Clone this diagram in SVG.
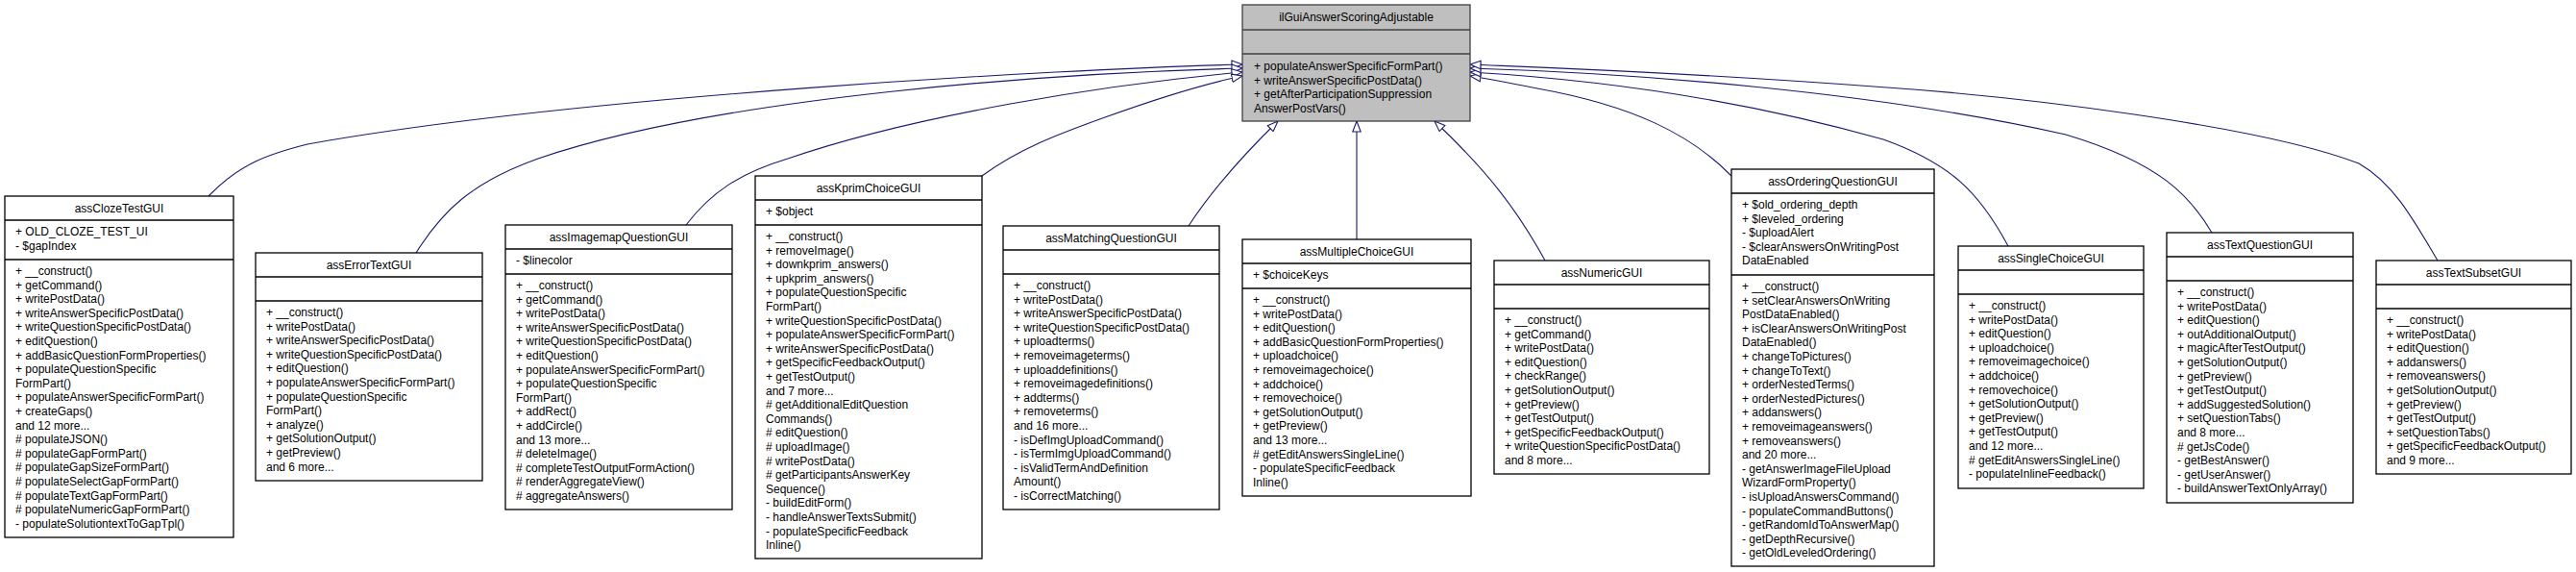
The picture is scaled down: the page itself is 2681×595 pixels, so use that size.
<svg xmlns="http://www.w3.org/2000/svg" width="2681" height="595" viewBox="0 0 2681 595">
<style>
.b{fill:#fff;stroke:#000;stroke-width:1.3}
.r{fill:#bfbfbf;stroke:#404040;stroke-width:1.3}
.s{stroke:#000;stroke-width:1.3}
.rs{stroke:#404040;stroke-width:1.3}
text{font-family:"Liberation Sans",Arial,sans-serif;font-size:12px;fill:#000}
.c{text-anchor:middle}
.e{fill:none;stroke:#191970;stroke-width:1.1}
</style>
<defs>
<marker id="tri" viewBox="0 0 12 10" refX="11.5" refY="5" markerWidth="12" markerHeight="10" markerUnits="userSpaceOnUse" orient="auto">
<path d="M0.5,0.8 L11.5,5 L0.5,9.2 Z" fill="#fff" stroke="#191970" stroke-width="1.1"/>
</marker>
</defs>
<g id="edges">
<path class="e" marker-end="url(#tri)" d="M217,204 C250,170 280,160 320,150 C600,100 1100,72 1293,67"/>
<path class="e" marker-end="url(#tri)" d="M433,263 C460,220 490,190 560,165 C750,100 1100,76 1293,71"/>
<path class="e" marker-end="url(#tri)" d="M714,234 C740,200 770,180 820,165 C950,120 1150,88 1293,75"/>
<path class="e" marker-end="url(#tri)" d="M1022,183 C1060,155 1100,140 1150,122 C1200,104 1250,88 1293,79"/>
<path class="e" marker-end="url(#tri)" d="M1237,235 C1260,200 1290,165 1330,126"/>
<path class="e" marker-end="url(#tri)" d="M1412,249 L1412,126"/>
<path class="e" marker-end="url(#tri)" d="M1608,271 C1580,220 1550,180 1493,126"/>
<path class="e" marker-end="url(#tri)" d="M1802,183 C1760,140 1700,110 1600,92 C1570,86 1550,82 1530,79"/>
<path class="e" marker-end="url(#tri)" d="M2090,256 C2060,200 2030,170 1960,145 C1800,100 1650,82 1530,75"/>
<path class="e" marker-end="url(#tri)" d="M2302,242 C2280,205 2250,170 2150,140 C1950,95 1700,76 1530,71"/>
<path class="e" marker-end="url(#tri)" d="M2537,271 C2510,225 2490,190 2455,170 C2350,130 2100,100 1950,90 C1750,75 1600,70 1530,67"/>
</g>
<g id="ilGuiAnswerScoringAdjustable">
<rect class="r" x="1293" y="5" width="237" height="121"/>
<line class="rs" x1="1293" y1="31" x2="1530" y2="31"/><line class="rs" x1="1293" y1="56" x2="1530" y2="56"/>
<text class="c" x="1411.5" y="22">ilGuiAnswerScoringAdjustable</text>
<text><tspan x="1305" y="73">+ populateAnswerSpecificFormPart()</tspan><tspan x="1305" y="87.6">+ writeAnswerSpecificPostData()</tspan><tspan x="1305" y="102.2">+ getAfterParticipationSuppression</tspan><tspan x="1305" y="116.8">AnswerPostVars()</tspan></text>
</g>
<g id="assClozeTestGUI">
<rect class="b" x="5" y="204" width="238" height="355"/>
<line class="s" x1="5" y1="229" x2="243" y2="229"/><line class="s" x1="5" y1="270" x2="243" y2="270"/>
<text class="c" x="124" y="221">assClozeTestGUI</text>
<text><tspan x="16" y="245">+ OLD_CLOZE_TEST_UI</tspan><tspan x="16" y="260">- $gapIndex</tspan></text>
<text><tspan x="16" y="286">+ __construct()</tspan><tspan x="16" y="300.6">+ getCommand()</tspan><tspan x="16" y="315.2">+ writePostData()</tspan><tspan x="16" y="329.8">+ writeAnswerSpecificPostData()</tspan><tspan x="16" y="344.4">+ writeQuestionSpecificPostData()</tspan><tspan x="16" y="359">+ editQuestion()</tspan><tspan x="16" y="373.6">+ addBasicQuestionFormProperties()</tspan><tspan x="16" y="388.2">+ populateQuestionSpecific</tspan><tspan x="16" y="402.8">FormPart()</tspan><tspan x="16" y="417.4">+ populateAnswerSpecificFormPart()</tspan><tspan x="16" y="432">+ createGaps()</tspan><tspan x="16" y="446.6">and 12 more...</tspan><tspan x="16" y="461.2"># populateJSON()</tspan><tspan x="16" y="475.8"># populateGapFormPart()</tspan><tspan x="16" y="490.4"># populateGapSizeFormPart()</tspan><tspan x="16" y="505"># populateSelectGapFormPart()</tspan><tspan x="16" y="519.6"># populateTextGapFormPart()</tspan><tspan x="16" y="534.2"># populateNumericGapFormPart()</tspan><tspan x="16" y="548.8">- populateSolutiontextToGapTpl()</tspan></text>
</g>
<g id="assErrorTextGUI">
<rect class="b" x="266" y="263" width="236" height="237"/>
<line class="s" x1="266" y1="288" x2="502" y2="288"/><line class="s" x1="266" y1="313" x2="502" y2="313"/>
<text class="c" x="384" y="280">assErrorTextGUI</text>
<text><tspan x="277" y="329">+ __construct()</tspan><tspan x="277" y="343.6">+ writePostData()</tspan><tspan x="277" y="358.2">+ writeAnswerSpecificPostData()</tspan><tspan x="277" y="372.8">+ writeQuestionSpecificPostData()</tspan><tspan x="277" y="387.4">+ editQuestion()</tspan><tspan x="277" y="402">+ populateAnswerSpecificFormPart()</tspan><tspan x="277" y="416.6">+ populateQuestionSpecific</tspan><tspan x="277" y="431.2">FormPart()</tspan><tspan x="277" y="445.8">+ analyze()</tspan><tspan x="277" y="460.4">+ getSolutionOutput()</tspan><tspan x="277" y="475">+ getPreview()</tspan><tspan x="277" y="489.6">and 6 more...</tspan></text>
</g>
<g id="assImagemapQuestionGUI">
<rect class="b" x="526" y="234" width="236" height="296"/>
<line class="s" x1="526" y1="259" x2="762" y2="259"/><line class="s" x1="526" y1="285" x2="762" y2="285"/>
<text class="c" x="644" y="251">assImagemapQuestionGUI</text>
<text x="537" y="275">- $linecolor</text>
<text><tspan x="537" y="301">+ __construct()</tspan><tspan x="537" y="315.6">+ getCommand()</tspan><tspan x="537" y="330.2">+ writePostData()</tspan><tspan x="537" y="344.8">+ writeAnswerSpecificPostData()</tspan><tspan x="537" y="359.4">+ writeQuestionSpecificPostData()</tspan><tspan x="537" y="374">+ editQuestion()</tspan><tspan x="537" y="388.6">+ populateAnswerSpecificFormPart()</tspan><tspan x="537" y="403.2">+ populateQuestionSpecific</tspan><tspan x="537" y="417.8">FormPart()</tspan><tspan x="537" y="432.4">+ addRect()</tspan><tspan x="537" y="447">+ addCircle()</tspan><tspan x="537" y="461.6">and 13 more...</tspan><tspan x="537" y="476.2"># deleteImage()</tspan><tspan x="537" y="490.8"># completeTestOutputFormAction()</tspan><tspan x="537" y="505.4"># renderAggregateView()</tspan><tspan x="537" y="520"># aggregateAnswers()</tspan></text>
</g>
<g id="assKprimChoiceGUI">
<rect class="b" x="786" y="183" width="236" height="398"/>
<line class="s" x1="786" y1="208" x2="1022" y2="208"/><line class="s" x1="786" y1="234" x2="1022" y2="234"/>
<text class="c" x="904" y="200">assKprimChoiceGUI</text>
<text x="797" y="224">+ $object</text>
<text><tspan x="797" y="250">+ __construct()</tspan><tspan x="797" y="264.6">+ removeImage()</tspan><tspan x="797" y="279.2">+ downkprim_answers()</tspan><tspan x="797" y="293.8">+ upkprim_answers()</tspan><tspan x="797" y="308.4">+ populateQuestionSpecific</tspan><tspan x="797" y="323">FormPart()</tspan><tspan x="797" y="337.6">+ writeQuestionSpecificPostData()</tspan><tspan x="797" y="352.2">+ populateAnswerSpecificFormPart()</tspan><tspan x="797" y="366.8">+ writeAnswerSpecificPostData()</tspan><tspan x="797" y="381.4">+ getSpecificFeedbackOutput()</tspan><tspan x="797" y="396">+ getTestOutput()</tspan><tspan x="797" y="410.6">and 7 more...</tspan><tspan x="797" y="425.2"># getAdditionalEditQuestion</tspan><tspan x="797" y="439.8">Commands()</tspan><tspan x="797" y="454.4"># editQuestion()</tspan><tspan x="797" y="469"># uploadImage()</tspan><tspan x="797" y="483.6"># writePostData()</tspan><tspan x="797" y="498.2"># getParticipantsAnswerKey</tspan><tspan x="797" y="512.8">Sequence()</tspan><tspan x="797" y="527.4">- buildEditForm()</tspan><tspan x="797" y="542">- handleAnswerTextsSubmit()</tspan><tspan x="797" y="556.6">- populateSpecificFeedback</tspan><tspan x="797" y="571.2">Inline()</tspan></text>
</g>
<g id="assMatchingQuestionGUI">
<rect class="b" x="1044" y="235" width="225" height="295"/>
<line class="s" x1="1044" y1="260" x2="1269" y2="260"/><line class="s" x1="1044" y1="285" x2="1269" y2="285"/>
<text class="c" x="1156.5" y="252">assMatchingQuestionGUI</text>
<text><tspan x="1055" y="301">+ __construct()</tspan><tspan x="1055" y="315.6">+ writePostData()</tspan><tspan x="1055" y="330.2">+ writeAnswerSpecificPostData()</tspan><tspan x="1055" y="344.8">+ writeQuestionSpecificPostData()</tspan><tspan x="1055" y="359.4">+ uploadterms()</tspan><tspan x="1055" y="374">+ removeimageterms()</tspan><tspan x="1055" y="388.6">+ uploaddefinitions()</tspan><tspan x="1055" y="403.2">+ removeimagedefinitions()</tspan><tspan x="1055" y="417.8">+ addterms()</tspan><tspan x="1055" y="432.4">+ removeterms()</tspan><tspan x="1055" y="447">and 16 more...</tspan><tspan x="1055" y="461.6">- isDefImgUploadCommand()</tspan><tspan x="1055" y="476.2">- isTermImgUploadCommand()</tspan><tspan x="1055" y="490.8">- isValidTermAndDefinition</tspan><tspan x="1055" y="505.4">Amount()</tspan><tspan x="1055" y="520">- isCorrectMatching()</tspan></text>
</g>
<g id="assMultipleChoiceGUI">
<rect class="b" x="1293" y="249" width="238" height="267"/>
<line class="s" x1="1293" y1="274" x2="1531" y2="274"/><line class="s" x1="1293" y1="300" x2="1531" y2="300"/>
<text class="c" x="1412" y="266">assMultipleChoiceGUI</text>
<text x="1304" y="290">+ $choiceKeys</text>
<text><tspan x="1304" y="316">+ __construct()</tspan><tspan x="1304" y="330.6">+ writePostData()</tspan><tspan x="1304" y="345.2">+ editQuestion()</tspan><tspan x="1304" y="359.8">+ addBasicQuestionFormProperties()</tspan><tspan x="1304" y="374.4">+ uploadchoice()</tspan><tspan x="1304" y="389">+ removeimagechoice()</tspan><tspan x="1304" y="403.6">+ addchoice()</tspan><tspan x="1304" y="418.2">+ removechoice()</tspan><tspan x="1304" y="432.8">+ getSolutionOutput()</tspan><tspan x="1304" y="447.4">+ getPreview()</tspan><tspan x="1304" y="462">and 13 more...</tspan><tspan x="1304" y="476.6"># getEditAnswersSingleLine()</tspan><tspan x="1304" y="491.2">- populateSpecificFeedback</tspan><tspan x="1304" y="505.8">Inline()</tspan></text>
</g>
<g id="assNumericGUI">
<rect class="b" x="1555" y="271" width="224" height="222"/>
<line class="s" x1="1555" y1="296" x2="1779" y2="296"/><line class="s" x1="1555" y1="321" x2="1779" y2="321"/>
<text class="c" x="1667" y="288">assNumericGUI</text>
<text><tspan x="1566" y="337">+ __construct()</tspan><tspan x="1566" y="351.6">+ getCommand()</tspan><tspan x="1566" y="366.2">+ writePostData()</tspan><tspan x="1566" y="380.8">+ editQuestion()</tspan><tspan x="1566" y="395.4">+ checkRange()</tspan><tspan x="1566" y="410">+ getSolutionOutput()</tspan><tspan x="1566" y="424.6">+ getPreview()</tspan><tspan x="1566" y="439.2">+ getTestOutput()</tspan><tspan x="1566" y="453.8">+ getSpecificFeedbackOutput()</tspan><tspan x="1566" y="468.4">+ writeQuestionSpecificPostData()</tspan><tspan x="1566" y="483">and 8 more...</tspan></text>
</g>
<g id="assOrderingQuestionGUI">
<rect class="b" x="1802" y="176" width="211" height="413"/>
<line class="s" x1="1802" y1="201" x2="2013" y2="201"/><line class="s" x1="1802" y1="286" x2="2013" y2="286"/>
<text class="c" x="1907.5" y="193">assOrderingQuestionGUI</text>
<text><tspan x="1813" y="217">+ $old_ordering_depth</tspan><tspan x="1813" y="231.6">+ $leveled_ordering</tspan><tspan x="1813" y="246.2">- $uploadAlert</tspan><tspan x="1813" y="260.8">- $clearAnswersOnWritingPost</tspan><tspan x="1813" y="275.4">DataEnabled</tspan></text>
<text><tspan x="1813" y="302">+ __construct()</tspan><tspan x="1813" y="316.6">+ setClearAnswersOnWriting</tspan><tspan x="1813" y="331.2">PostDataEnabled()</tspan><tspan x="1813" y="345.8">+ isClearAnswersOnWritingPost</tspan><tspan x="1813" y="360.4">DataEnabled()</tspan><tspan x="1813" y="375">+ changeToPictures()</tspan><tspan x="1813" y="389.6">+ changeToText()</tspan><tspan x="1813" y="404.2">+ orderNestedTerms()</tspan><tspan x="1813" y="418.8">+ orderNestedPictures()</tspan><tspan x="1813" y="433.4">+ addanswers()</tspan><tspan x="1813" y="448">+ removeimageanswers()</tspan><tspan x="1813" y="462.6">+ removeanswers()</tspan><tspan x="1813" y="477.2">and 20 more...</tspan><tspan x="1813" y="491.8">- getAnswerImageFileUpload</tspan><tspan x="1813" y="506.4">WizardFormProperty()</tspan><tspan x="1813" y="521">- isUploadAnswersCommand()</tspan><tspan x="1813" y="535.6">- populateCommandButtons()</tspan><tspan x="1813" y="550.2">- getRandomIdToAnswerMap()</tspan><tspan x="1813" y="564.8">- getDepthRecursive()</tspan><tspan x="1813" y="579.4">- getOldLeveledOrdering()</tspan></text>
</g>
<g id="assSingleChoiceGUI">
<rect class="b" x="2038" y="256" width="193" height="252"/>
<line class="s" x1="2038" y1="281" x2="2231" y2="281"/><line class="s" x1="2038" y1="306" x2="2231" y2="306"/>
<text class="c" x="2134.5" y="273">assSingleChoiceGUI</text>
<text><tspan x="2049" y="322">+ __construct()</tspan><tspan x="2049" y="336.6">+ writePostData()</tspan><tspan x="2049" y="351.2">+ editQuestion()</tspan><tspan x="2049" y="365.8">+ uploadchoice()</tspan><tspan x="2049" y="380.4">+ removeimagechoice()</tspan><tspan x="2049" y="395">+ addchoice()</tspan><tspan x="2049" y="409.6">+ removechoice()</tspan><tspan x="2049" y="424.2">+ getSolutionOutput()</tspan><tspan x="2049" y="438.8">+ getPreview()</tspan><tspan x="2049" y="453.4">+ getTestOutput()</tspan><tspan x="2049" y="468">and 12 more...</tspan><tspan x="2049" y="482.6"># getEditAnswersSingleLine()</tspan><tspan x="2049" y="497.2">- populateInlineFeedback()</tspan></text>
</g>
<g id="assTextQuestionGUI">
<rect class="b" x="2255" y="242" width="194" height="281"/>
<line class="s" x1="2255" y1="267" x2="2449" y2="267"/><line class="s" x1="2255" y1="292" x2="2449" y2="292"/>
<text class="c" x="2352" y="259">assTextQuestionGUI</text>
<text><tspan x="2266" y="308">+ __construct()</tspan><tspan x="2266" y="322.6">+ writePostData()</tspan><tspan x="2266" y="337.2">+ editQuestion()</tspan><tspan x="2266" y="351.8">+ outAdditionalOutput()</tspan><tspan x="2266" y="366.4">+ magicAfterTestOutput()</tspan><tspan x="2266" y="381">+ getSolutionOutput()</tspan><tspan x="2266" y="395.6">+ getPreview()</tspan><tspan x="2266" y="410.2">+ getTestOutput()</tspan><tspan x="2266" y="424.8">+ addSuggestedSolution()</tspan><tspan x="2266" y="439.4">+ setQuestionTabs()</tspan><tspan x="2266" y="454">and 8 more...</tspan><tspan x="2266" y="468.6"># getJsCode()</tspan><tspan x="2266" y="483.2">- getBestAnswer()</tspan><tspan x="2266" y="497.8">- getUserAnswer()</tspan><tspan x="2266" y="512.4">- buildAnswerTextOnlyArray()</tspan></text>
</g>
<g id="assTextSubsetGUI">
<rect class="b" x="2473" y="271" width="203" height="222"/>
<line class="s" x1="2473" y1="296" x2="2676" y2="296"/><line class="s" x1="2473" y1="321" x2="2676" y2="321"/>
<text class="c" x="2574.5" y="288">assTextSubsetGUI</text>
<text><tspan x="2484" y="337">+ __construct()</tspan><tspan x="2484" y="351.6">+ writePostData()</tspan><tspan x="2484" y="366.2">+ editQuestion()</tspan><tspan x="2484" y="380.8">+ addanswers()</tspan><tspan x="2484" y="395.4">+ removeanswers()</tspan><tspan x="2484" y="410">+ getSolutionOutput()</tspan><tspan x="2484" y="424.6">+ getPreview()</tspan><tspan x="2484" y="439.2">+ getTestOutput()</tspan><tspan x="2484" y="453.8">+ setQuestionTabs()</tspan><tspan x="2484" y="468.4">+ getSpecificFeedbackOutput()</tspan><tspan x="2484" y="483">and 9 more...</tspan></text>
</g>
</svg>
